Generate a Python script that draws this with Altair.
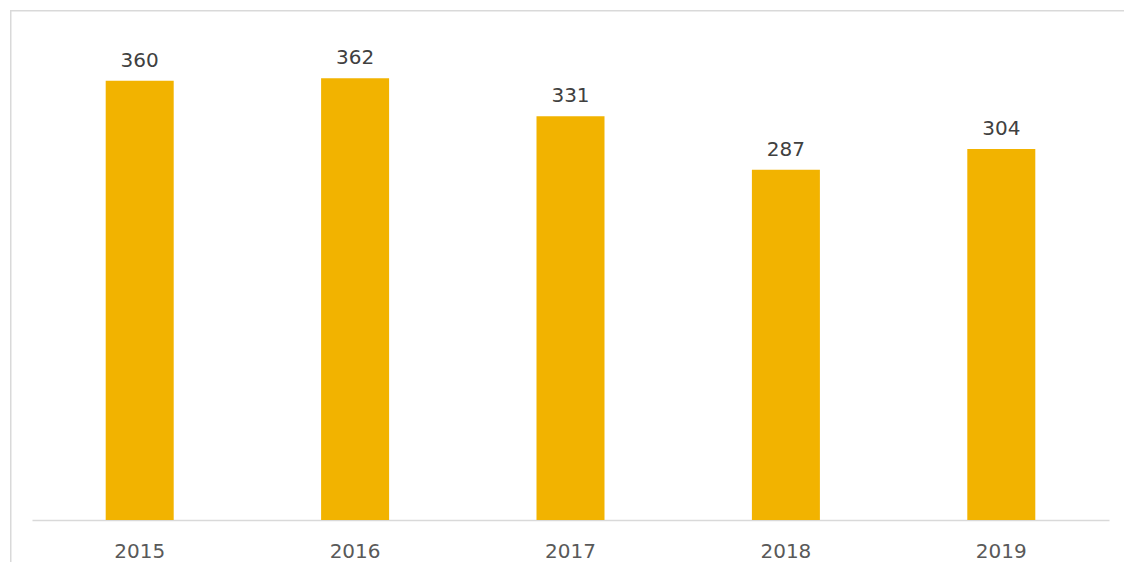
import altair as alt
import pandas as pd

years = ["2015", "2016", "2017", "2018", "2019"]
values = [360, 362, 331, 287, 304]

df = pd.DataFrame({"year": years, "value": values})

W, H = 1077, 488
FONT = "DejaVu Sans"

base = alt.Chart(df)
one = base.transform_filter(alt.datum.year == "2015")

frame_top = one.mark_rect(color="#d9d9d9").encode(
    x=alt.value(-22), x2=alt.value(W + 20), y=alt.value(-22), y2=alt.value(-20.5)
)
frame_left = one.mark_rect(color="#d9d9d9").encode(
    x=alt.value(-22), x2=alt.value(-20.5), y=alt.value(-22), y2=alt.value(H + 50)
)

bars = base.mark_bar(color="#F2B300", size=68).encode(
    x=alt.X("year:N", sort=years, title=None,
            scale=alt.Scale(paddingInner=0.684, paddingOuter=0.342),
            axis=alt.Axis(labelAngle=0, ticks=False, domainColor="#d9d9d9",
                          domainWidth=1.5, labelFont=FONT, labelFontSize=20,
                          labelColor="#595959", labelPadding=21)),
    y=alt.Y("value:Q", scale=alt.Scale(domain=[0, 400], nice=False), axis=None),
)

labels = base.mark_text(font=FONT, fontSize=20, color="#404040", baseline="bottom", dy=-10).encode(
    x=alt.X("year:N", sort=years),
    y=alt.Y("value:Q"),
    text="value:Q",
)

chart = alt.layer(frame_top, frame_left, bars, labels).properties(
    width=W, height=H,
    autosize=alt.AutoSizeParams(type="none"),
    padding={"left": 24, "top": 24, "right": 15, "bottom": 42},
).configure(background="white").configure_view(stroke=None, strokeWidth=0)

chart.save("out.html", embed_options={"renderer": "svg", "actions": False})
